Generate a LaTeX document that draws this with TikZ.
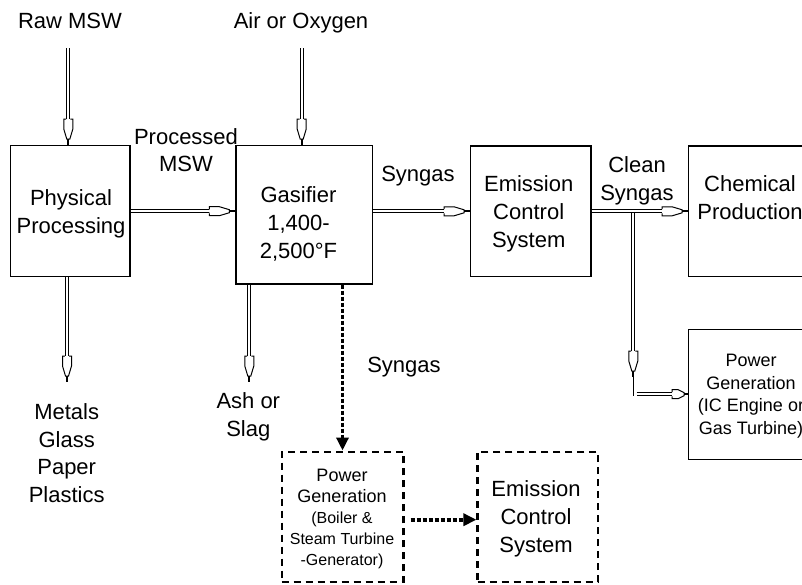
\documentclass[tikz,border=0pt]{standalone}
\usepackage{fontspec}
\setmainfont{Liberation Sans}
\usetikzlibrary{arrows.meta}
\newcommand{\fbig}{\fontsize{22}{28}\selectfont}
\newcommand{\fmid}{\fontsize{18}{22.5}\selectfont}
\newcommand{\fsml}{\fontsize{16}{21}\selectfont}
\tikzset{
  box/.style={draw, line width=1.1pt, inner sep=0pt},
  dbox/.style={draw, line width=2.4pt, dash pattern=on 7pt off 5pt, inner sep=0pt},
  txt/.style={align=center, inner sep=0pt, font=\fbig},
  txtm/.style={align=center, inner sep=0pt, font=\fmid},
  shaft/.style={double, double distance=2.2pt, line width=1pt, shorten >=25.5pt},
  stubline/.style={line width=1.6pt},
  dots/.style={line width=3.6pt, dash pattern=on 4pt off 2pt, -{Triangle[length=13pt,width=12pt]}},
  headR/.pic={
    \draw[line width=1pt, fill=white] (-26,-2.1) -- (-26,-4.5) -- (-16,-4.5) -- (-6,-1.5) -- (-6,1.5) -- (-16,4.5) -- (-26,4.5) -- (-26,2.1);
    \draw[line width=1.8pt] (-6.5,0) -- (0,0);
  },
  headD/.pic={
    \draw[line width=1pt, fill=white] (-2.1,-26) -- (-4.5,-26) -- (-4.5,-16) -- (-1.5,-6) -- (1.5,-6) -- (4.5,-16) -- (4.5,-26) -- (2.1,-26);
    \draw[line width=1.8pt] (0,-6.5) -- (0,0);
  }
}
\begin{document}
\begin{tikzpicture}[x=1pt, y=-1pt]
\useasboundingbox (0,0) rectangle (802,584);
\clip (0,0) rectangle (802,584);

% boxes
\node[box, minimum width=119.3pt, minimum height=131pt] (pp) at (70.3,211.2) {};
\node[box, minimum width=136.7pt, minimum height=138.3pt] (gas) at (304.3,214.8) {};
\node[box, minimum width=120.3pt, minimum height=130.7pt] (ecs) at (530.8,211.3) {};
\node[box, minimum width=120pt, minimum height=130.7pt] (chem) at (748.7,211.3) {};
\node[box, minimum width=124pt, minimum height=129.7pt] (ic) at (750.3,394.2) {};
\node[dbox, minimum width=121.6pt, minimum height=130pt] (pg) at (342.5,516.7) {};
\node[dbox, minimum width=120.3pt, minimum height=130pt] (ecs2) at (537.8,516.7) {};

% box texts
\node[txt] (pptxt) at (71,214) {Physical\\Processing};
\node[txt] (gastxt) at (298.5,224) {Gasifier\\1,400-\\2,500\textdegree F};
\node[txt] (ecstxt) at (528.7,214) {Emission\\Control\\System};
\node[txt] (chemtxt) at (750,197.5) {Chemical\\Production};
\node[txtm] (ictxt) at (751,396) {Power\\Generation\\(IC Engine or\\Gas Turbine)};
\node[align=center, inner sep=0pt, font=\fsml] (pgtxt) at (342,519) {\fmid Power\\\fmid Generation\\(Boiler \&\\Steam Turbine\\-Generator)};
\node[txt] (ecs2txt) at (536,519) {Emission\\Control\\System};

% free labels
\node[txt] (raw) at (70,21) {Raw MSW};
\node[txt] (air) at (301,23) {Air or Oxygen};
\node[align=center, inner sep=0pt, font=\fontsize{22}{26.5}\selectfont] (proc) at (186,150) {Processed\\MSW};
\node[txt] (syn1) at (418,176) {Syngas};
\node[txt] (clean) at (637,181) {Clean\\Syngas};
\node[txt] (syn2) at (404,366.7) {Syngas};
\node[align=center, inner sep=0pt, font=\fontsize{22}{27.5}\selectfont] (metals) at (66.7,453) {Metals\\Glass\\Paper\\Plastics};
\node[txt] (ash) at (248.3,417) {Ash or\\Slag};

% free ends
\coordinate (rawtop) at (68.3,48.3);
\coordinate (airtop) at (301.7,48.3);
\coordinate (metbot) at (67,382);
\coordinate (ashbot) at (249.3,382);
\coordinate (split) at (633.3,213);
\coordinate (vtip) at (633.3,377);
\coordinate (turn) at (633.3,396);
\coordinate (hstart) at (636.5,394.2);

% double-line connectors
\draw[shaft] (rawtop) -- (rawtop |- pp.north);
\pic at (rawtop |- pp.north) {headD};
\draw[shaft] (airtop) -- (airtop |- gas.north);
\pic at (airtop |- gas.north) {headD};
\draw[shaft] (metbot |- pp.south) -- (metbot);
\pic at (metbot) {headD};
\draw[shaft] (ashbot |- gas.south) -- (ashbot);
\pic at (ashbot) {headD};
\draw[shaft] (pp.east) -- (pp.east -| gas.west);
\pic at (pp.east -| gas.west) {headR};
\draw[shaft] (gas.east |- ecs.west) -- (ecs.west);
\pic at (ecs.west) {headR};
\draw[shaft] (split) -- (vtip);
\pic at (vtip) {headD};
\draw[stubline] (vtip) -- (turn);
\draw[shaft] (ecs.east) -- (chem.west);
\pic at (chem.west) {headR};
\draw[shaft, shorten >=15.5pt] (hstart) -- (ic.west);
\pic[xscale=0.6] at (ic.west) {headR};

% dotted connectors
\draw[dots] (pg.north |- gas.south) -- (pg.north);
\draw[dots] ([xshift=6pt,yshift=-3pt]pg.east) -- ([yshift=-3pt]ecs2.west);
\end{tikzpicture}
\end{document}
